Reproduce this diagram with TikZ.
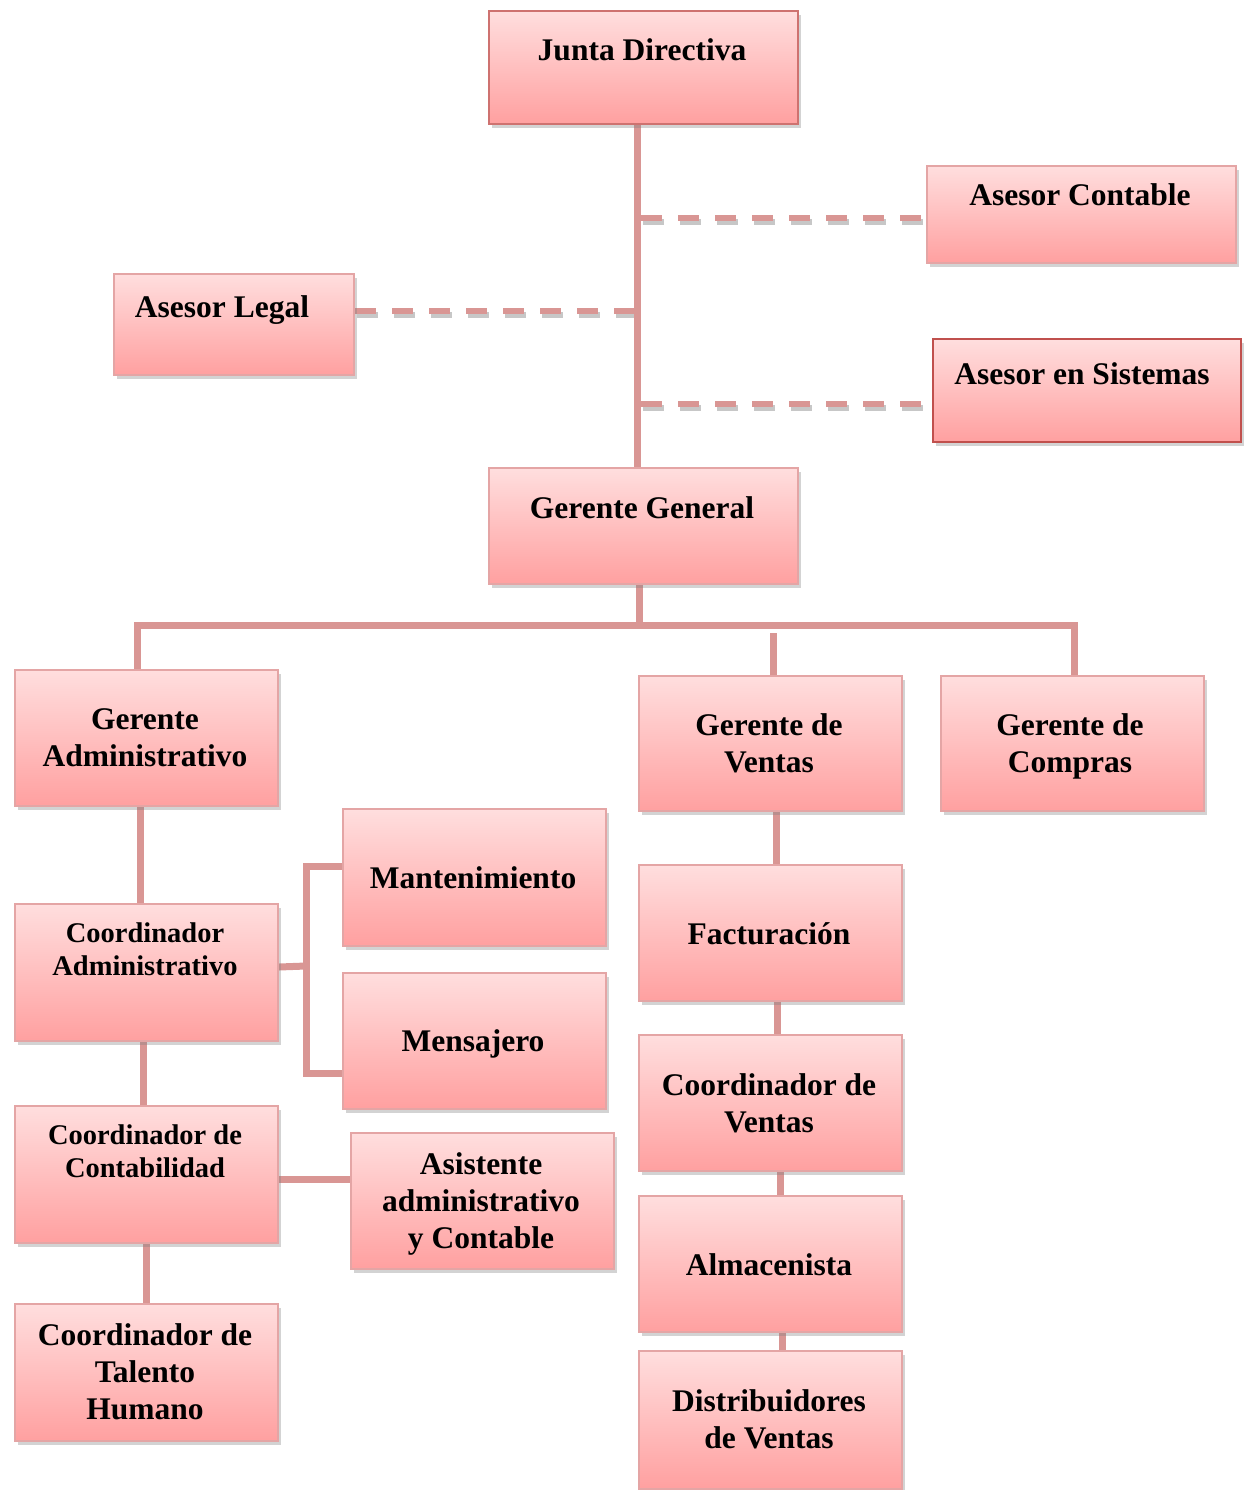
\documentclass[tikz,border=0pt]{standalone}
\usepackage{fontspec}
\setmainfont{Liberation Serif}
\usetikzlibrary{shadows}
\pgfdeclarelayer{back}
\pgfsetlayers{back,main}
\definecolor{linkred}{RGB}{217,150,148}
\definecolor{boxtop}{RGB}{255,222,222}
\definecolor{boxbot}{RGB}{255,160,160}
\definecolor{boxedge}{RGB}{228,165,165}
\definecolor{darkedge}{RGB}{192,80,77}
\tikzstyle{box} = [draw=boxedge, line width=2, rectangle, top color=boxtop,
    bottom color=boxbot, anchor=north west, inner sep=0,
    drop shadow={opacity=0.35, shadow xshift=3pt, shadow yshift=-4pt}]
\tikzstyle{txt} = [align=center, inner sep=0,
    font=\bfseries\fontsize{31.5}{37}\selectfont]
\tikzstyle{smalltxt} = [txt, font=\bfseries\fontsize{28.5}{33}\selectfont]
\tikzstyle{conn} = [draw=linkred, line width=7]
\tikzstyle{dashshadow} = [draw=black!22, line width=6, dash pattern=on 21pt off 16pt]
\tikzstyle{dashconn} = [draw=linkred, line width=6, dash pattern=on 21pt off 16pt]

\begin{document}
\begin{tikzpicture}[x=1pt, y=-1pt]
    \useasboundingbox (0,0) rectangle (1246,1490);
    % top of the chart
    \node [box, minimum width=309, minimum height=113, draw=darkedge!60!boxedge] (junta) at (488,10) {};
    \node [txt] (tjunta) at (642,50) {Junta Directiva};
    \node [box, minimum width=309, minimum height=97] (acont) at (926,165) {};
    \node [txt] (tacont) at (1080,195) {Asesor Contable};
    \node [box, minimum width=240, minimum height=101] (alegal) at (113,273) {};
    \node [txt] (talegal) at (222,310) {Asesor Legal};
    \node [box, minimum width=308, minimum height=103, draw=darkedge] (asist) at (932,338) {};
    \node [txt] (tasist) at (1082,374) {Asesor en Sistemas};
    \node [box, minimum width=309, minimum height=116] (gg) at (488,467) {};
    \node [txt] (tgg) at (642,508) {Gerente General};

    % managers
    \node [box, minimum width=263, minimum height=136] (gadm) at (14,669) {};
    \node [txt] (tgadm) at (145,738) {Gerente\\Administrativo};
    \node [box, minimum width=263, minimum height=135] (gvent) at (638,675) {};
    \node [txt] (tgvent) at (769,743) {Gerente de\\Ventas};
    \node [box, minimum width=263, minimum height=135] (gcomp) at (940,675) {};
    \node [txt] (tgcomp) at (1070,746) {Gerente de\\Compras};

    % administrative branch
    \node [box, minimum width=263, minimum height=137] (cadm) at (14,903) {};
    \node [smalltxt] (tcadm) at (145,949) {Coordinador\\Administrativo};
    \node [box, minimum width=263, minimum height=137] (mant) at (342,808) {};
    \node [txt] (tmant) at (473,878) {Mantenimiento};
    \node [box, minimum width=263, minimum height=136] (mens) at (342,972) {};
    \node [txt] (tmens) at (473,1044) {Mensajero};
    \node [box, minimum width=263, minimum height=137] (ccont) at (14,1105) {};
    \node [smalltxt] (tccont) at (145,1151) {Coordinador de\\Contabilidad};
    \node [box, minimum width=263, minimum height=136] (aadm) at (350,1132) {};
    \node [txt] (taadm) at (481,1204) {Asistente\\administrativo\\y Contable};
    \node [box, minimum width=263, minimum height=137] (cth) at (14,1303) {};
    \node [txt] (tcth) at (145,1372) {Coordinador de\\Talento\\Humano};

    % sales branch
    \node [box, minimum width=263, minimum height=136] (fact) at (638,864) {};
    \node [txt] (tfact) at (769,934) {Facturación};
    \node [box, minimum width=263, minimum height=136] (cvent) at (638,1034) {};
    \node [txt] (tcvent) at (769,1103) {Coordinador de\\Ventas};
    \node [box, minimum width=263, minimum height=136] (alm) at (638,1195) {};
    \node [txt] (talm) at (769,1265) {Almacenista};
    \node [box, minimum width=263, minimum height=138] (dist) at (638,1350) {};
    \node [txt] (tdist) at (769,1419) {Distribuidores\\de Ventas};

    % connectors go behind the boxes
    \begin{pgfonlayer}{back}
    \coordinate (spine) at (637,0);
    \coordinate (dc) at ([yshift=-3.5]acont.west);
    \coordinate (dl) at ([yshift=13.5]alegal.east);
    \coordinate (ds) at ([yshift=-13.5]asist.west);
    % grey shade under the dashed links
    \begin{scope}[transform canvas={xshift=2pt, yshift=-4pt}]
    \draw [dashshadow] ([xshift=4]dc -| spine) -- (dc);
    \draw [dashshadow] (dl) -- (dl -| spine);
    \draw [dashshadow] ([xshift=4]ds -| spine) -- (ds);
    \end{scope}
    \draw [dashconn] ([xshift=4]dc -| spine) -- (dc);
    \draw [dashconn] (dl) -- (dl -| spine);
    \draw [dashconn] ([xshift=4]ds -| spine) -- (ds);
    \draw [conn] (junta.south -| spine) -- (gg.north -| spine);

    \coordinate (busL) at (137,625);
    \coordinate (busR) at (1074,625);
    \coordinate (busV) at (773,633);
    \coordinate (ggdrop) at ([xshift=-4]gg.south);
    \draw [conn] (ggdrop) -- (ggdrop |- busL);
    \draw [conn] (gadm.north -| busL) -- (busL) -- (busR) -- (gcomp.north -| busR);
    \draw [conn] (busV) -- (gvent.north -| busV);

    \draw [conn] ([xshift=-6.5]gadm.south) -- ([xshift=-6.5]cadm.north);
    \draw [conn] ([xshift=-3.5]cadm.south) -- ([xshift=-3.5]ccont.north);
    \draw [conn] (ccont.south) -- (cth.north);
    \coordinate (brk) at (306,966);
    \draw [conn] ([yshift=5.5]cadm.east) -- (brk);
    \draw [conn] ([yshift=11.5]mant.west) -| (brk) |- ([yshift=-32]mens.west);
    \coordinate (cc) at ([yshift=-4.5]ccont.east);
    \draw [conn] (cc) -- (cc -| aadm.west);

    \draw [conn] ([xshift=5.5]gvent.south) -- ([xshift=5.5]fact.north);
    \draw [conn] ([xshift=6.5]fact.south) -- ([xshift=6.5]cvent.north);
    \draw [conn] ([xshift=9.5]cvent.south) -- ([xshift=9.5]alm.north);
    \draw [conn] ([xshift=11.5]alm.south) -- ([xshift=11.5]dist.north);
    \end{pgfonlayer}
\end{tikzpicture}
\end{document}
